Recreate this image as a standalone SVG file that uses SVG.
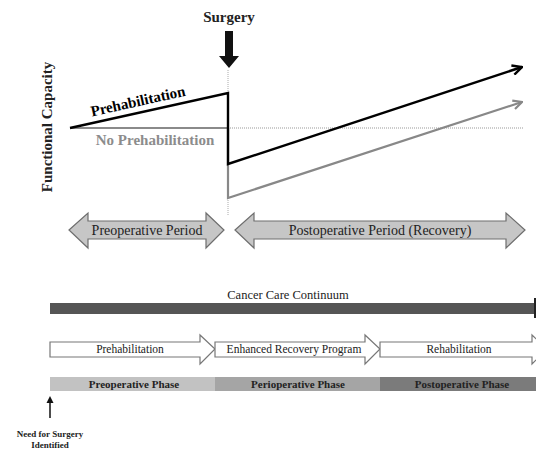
<svg xmlns="http://www.w3.org/2000/svg" width="536" height="450" viewBox="0 0 536 450">
<defs>
<style>
.t{font-family:"Liberation Serif","Times New Roman",serif;}
.b{font-weight:bold;}
.dbl{fill:#c6c6c6;stroke:#6e6e6e;stroke-width:1.2;}
.wa{fill:#fff;stroke:#777;stroke-width:1.2;}
</style>
<marker id="ab" viewBox="0 0 10 10" refX="9" refY="5" markerWidth="5" markerHeight="5" orient="auto" markerUnits="strokeWidth">
<path d="M1,1 L9,5 L1,9" fill="none" stroke="#000" stroke-width="2"/>
</marker>
<marker id="ag" viewBox="0 0 10 10" refX="9" refY="5" markerWidth="5" markerHeight="5" orient="auto" markerUnits="strokeWidth">
<path d="M1,1 L9,5 L1,9" fill="none" stroke="#888" stroke-width="2"/>
</marker>
</defs>
<rect width="536" height="450" fill="#fff"/>

<g id="surgery">
<text class="t b" x="229" y="22" font-size="15" text-anchor="middle" fill="#222">Surgery</text>
<polygon points="225,31 233,31 233,56 239,56 229,68 219,56 225,56" fill="#111"/>
</g>

<g id="connectors">
<line x1="228" y1="70" x2="228" y2="216" stroke="#aaa" stroke-width="1" stroke-dasharray="1,1"/>
<line x1="228" y1="128" x2="524" y2="128" stroke="#999" stroke-width="1" stroke-dasharray="1,1"/>
<line x1="70" y1="128" x2="228" y2="128" stroke="#8a8a8a" stroke-width="2"/>
<polyline points="228,128 228,198 522,102" fill="none" stroke="#888" stroke-width="2.2" marker-end="url(#ag)"/>
<polyline points="70,128 228,93 228,164 522,67" fill="none" stroke="#000" stroke-width="2.4" marker-end="url(#ab)"/>
<line x1="50" y1="418" x2="50" y2="399" stroke="#111" stroke-width="1.5"/>
<polygon points="50,396 46.5,403 53.5,403" fill="#111"/>
</g>

<g id="labels">
<text class="t b" font-size="15" text-anchor="middle" fill="#000" transform="translate(139,106) rotate(-12.5)">Prehabilitation</text>
<text class="t b" x="155" y="145" font-size="15" text-anchor="middle" fill="#8c8c8c">No Prehabilitation</text>
<text class="t b" font-size="15" text-anchor="middle" fill="#222" transform="translate(52,127) rotate(-90)">Functional Capacity</text>
</g>

<g id="preop-period">
<polygon class="dbl" points="69,230 88,213 88,221 206,221 206,213 224,230 206,248 206,239 88,239 88,248"/>
<text class="t" x="147" y="235" font-size="14" text-anchor="middle" fill="#222">Preoperative Period</text>
</g>

<g id="postop-period">
<polygon class="dbl" points="235,230 254,213 254,221 506,221 506,213 525,230 506,248 506,239 254,239 254,248"/>
<text class="t" x="380" y="235" font-size="14" text-anchor="middle" fill="#222">Postoperative Period (Recovery)</text>
</g>

<g id="continuum">
<text class="t" x="288" y="299" font-size="12.5" text-anchor="middle" fill="#222">Cancer Care Continuum</text>
<rect x="50" y="303" width="486" height="11" fill="#555"/>
<rect x="534" y="298" width="2" height="20" fill="#222"/>
</g>

<g id="prehab-arrow">
<polygon class="wa" points="50,342 200,342 200,335 215,349 200,364 200,357 50,357"/>
<text class="t" x="130" y="353" font-size="11.5" text-anchor="middle" fill="#222">Prehabilitation</text>
</g>

<g id="erp-arrow">
<polygon class="wa" points="215,342 365,342 365,335 380,349 365,364 365,357 215,357"/>
<text class="t" x="294" y="353" font-size="11.5" text-anchor="middle" fill="#222">Enhanced Recovery Program</text>
</g>

<g id="rehab-arrow">
<polygon class="wa" points="380,342 532,342 532,335 547,349 532,364 532,357 380,357"/>
<text class="t" x="459" y="353" font-size="11.5" text-anchor="middle" fill="#222">Rehabilitation</text>
</g>

<g id="preop-phase">
<rect x="50" y="377" width="165" height="14" fill="#c2c2c2"/>
<text class="t b" x="134" y="388" font-size="11" text-anchor="middle" fill="#222">Preoperative Phase</text>
</g>

<g id="periop-phase">
<rect x="215" y="377" width="165" height="14" fill="#a5a5a5"/>
<text class="t b" x="298" y="388" font-size="11" text-anchor="middle" fill="#222">Perioperative Phase</text>
</g>

<g id="postop-phase">
<rect x="380" y="377" width="156" height="14" fill="#7b7b7b"/>
<text class="t b" x="462" y="388" font-size="11" text-anchor="middle" fill="#222">Postoperative Phase</text>
</g>

<g id="need-surgery">
<text class="t b" x="50" y="437" font-size="9" text-anchor="middle" fill="#222">Need for Surgery</text>
<text class="t b" x="50" y="448" font-size="9" text-anchor="middle" fill="#222">Identified</text>
</g>
</svg>
